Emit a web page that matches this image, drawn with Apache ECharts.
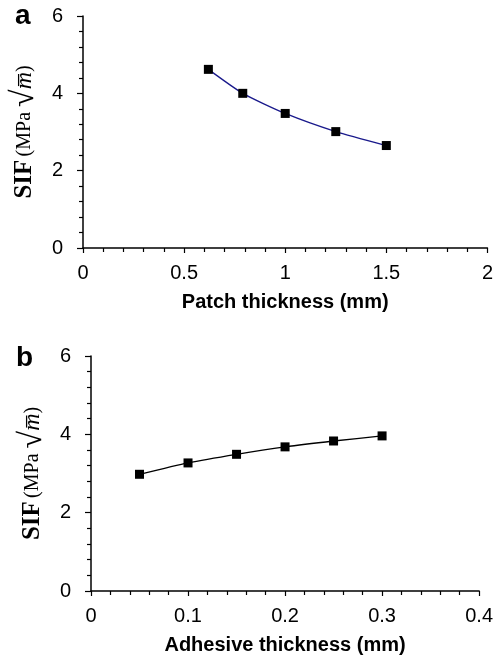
<!DOCTYPE html>
<html>
<head>
<meta charset="utf-8">
<script src="https://cdn.jsdelivr.net/npm/echarts@6/dist/echarts.min.js"></script>
<style>
html, body { margin: 0; padding: 0; background: #fff; }
#chart { width: 496px; height: 660px; }
</style>
</head>
<body>
<div id="chart"></div>
<script>
// panel a: SIF vs patch thickness
var patchThickness = [0.62, 0.79, 1.0, 1.25, 1.5];
var patchSif = [4.62, 4.0, 3.48, 3.01, 2.65];
// panel b: SIF vs adhesive thickness
var adhesiveThickness = [0.05, 0.1, 0.15, 0.2, 0.25, 0.3];
var adhesiveSif = [2.98, 3.27, 3.49, 3.68, 3.83, 3.96];

var sansFont = 'Liberation Sans, Arial, sans-serif';
var serifFont = 'Liberation Serif, Times New Roman, serif';

function pairs(xs, ys) {
	var out = [];
	for (var i = 0; i < xs.length; i++) {
		out.push([xs[i], ys[i]]);
	}
	return out;
}

var sifName = '{b|SIF} {r|(MPa }{s|\u221A}{i|m\u0305}{r|)}';
var sifRich = {
	b: {fontFamily: serifFont, fontWeight: 'bold', fontSize: 25, color: '#000'},
	r: {fontFamily: serifFont, fontSize: 20, color: '#000'},
	s: {fontFamily: serifFont, fontSize: 32, color: '#000'},
	i: {fontFamily: serifFont, fontStyle: 'italic', fontSize: 24, color: '#000'}
};

function xAxisOf(idx, max, step, title) {
	return {
		type: 'value', gridIndex: idx, min: 0, max: max, interval: step,
		name: title, nameLocation: 'middle', nameGap: 44,
		nameTextStyle: {fontFamily: sansFont, fontWeight: 'bold', fontSize: 20, color: '#000'},
		axisLine: {show: true, onZero: false, lineStyle: {color: '#000', width: 1.5}},
		axisTick: {show: true, length: 5, lineStyle: {color: '#000', width: 1.2}},
		minorTick: {show: true, splitNumber: 5, length: 4, lineStyle: {color: '#000', width: 1.2}},
		axisLabel: {fontFamily: sansFont, fontSize: 20, color: '#000', margin: 15, showMaxLabel: true},
		splitLine: {show: false}
	};
}

function yAxisOf(idx) {
	return {
		type: 'value', gridIndex: idx, min: 0, max: 6, interval: 2,
		name: sifName, nameLocation: 'middle', nameGap: 39, nameRotate: 90,
		nameTextStyle: {rich: sifRich},
		axisLine: {show: true, onZero: false, lineStyle: {color: '#000', width: 1.5}},
		axisTick: {show: true, length: 6, lineStyle: {color: '#000', width: 1.2}},
		minorTick: {show: true, splitNumber: 5, length: 4, lineStyle: {color: '#000', width: 1.2}},
		axisLabel: {fontFamily: sansFont, fontSize: 20, color: '#000', margin: 20},
		splitLine: {show: false}
	};
}

var option = {
	backgroundColor: '#fff',
	animation: false,
	grid: [
		{left: 83, top: 16, width: 407, height: 232},
		{left: 91, top: 356, width: 389, height: 235}
	],
	xAxis: [
		xAxisOf(0, 2, 0.5, 'Patch thickness (mm)'),
		xAxisOf(1, 0.4, 0.1, 'Adhesive thickness (mm)')
	],
	yAxis: [yAxisOf(0), yAxisOf(1)],
	graphic: [
		{type: 'text', left: 15, top: 2, style: {text: 'a', fontFamily: sansFont, fontWeight: 'bold', fontSize: 28, fill: '#000'}},
		{type: 'text', left: 16, top: 344, style: {text: 'b', fontFamily: sansFont, fontWeight: 'bold', fontSize: 28, fill: '#000'}}
	],
	series: [
		{
			type: 'line', xAxisIndex: 0, yAxisIndex: 0,
			data: pairs(patchThickness, patchSif),
			smooth: 0.2,
			symbol: 'rect', symbolSize: 9,
			lineStyle: {color: '#1a1a8c', width: 1.3},
			itemStyle: {color: '#000'}
		},
		{
			type: 'line', xAxisIndex: 1, yAxisIndex: 1,
			data: pairs(adhesiveThickness, adhesiveSif),
			smooth: 0.2,
			symbol: 'rect', symbolSize: 9,
			lineStyle: {color: '#000', width: 1.3},
			itemStyle: {color: '#000'}
		}
	]
};

var myChart = echarts.init(document.getElementById('chart'));
myChart.setOption(option);
</script>
</body>
</html>
